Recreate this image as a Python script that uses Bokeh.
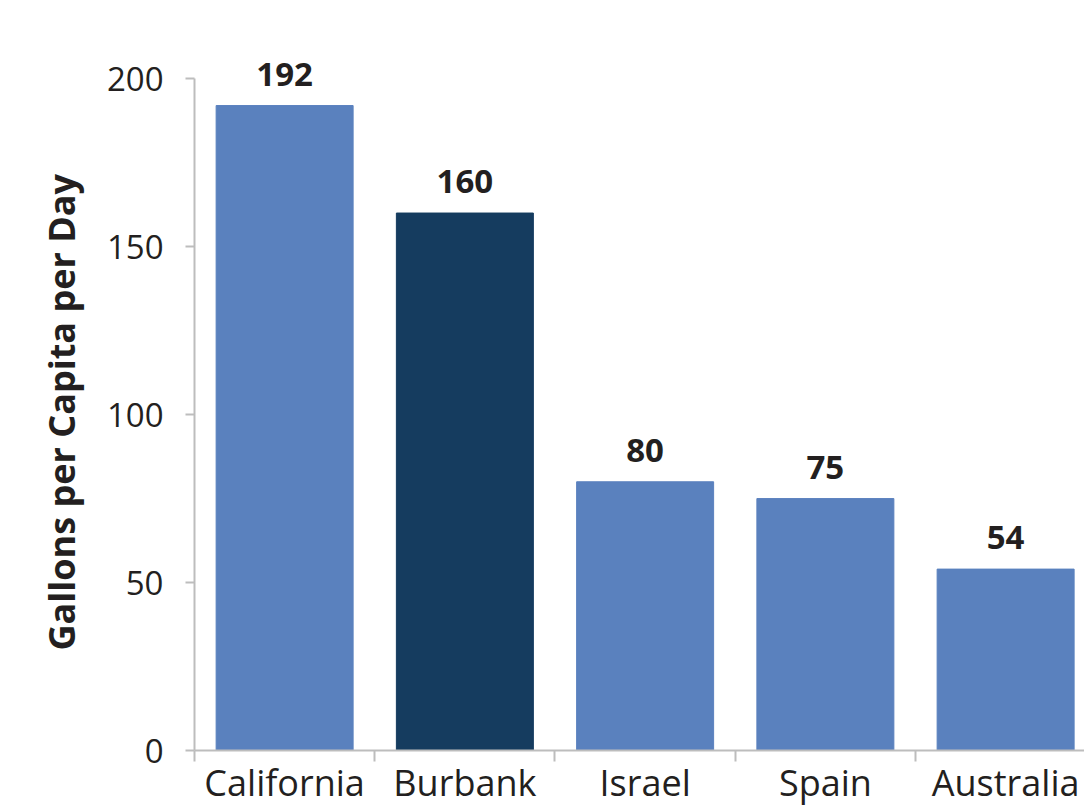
from bokeh.plotting import figure
from bokeh.models import ColumnDataSource, Range1d, FixedTicker, Title
from bokeh.core.properties import value
from bokeh.embed import file_html
from bokeh.resources import INLINE

# Residential water use, gallons per capita per day
places = ["California", "Burbank", "Israel", "Spain", "Australia"]
gallons = [192, 160, 80, 75, 54]
bar_colors = ["#5A81BE", "#153C5F", "#5A81BE", "#5A81BE", "#5A81BE"]
y_ticks = [0, 50, 100, 150, 200]
y_title = "Gallons per Capita per Day"

FONT = "Open Sans"
TEXT = "#231F20"
AXIS = "#BDBDBD"

centers = [i + 0.5 for i in range(len(places))]
src = ColumnDataSource(dict(x=centers, top=gallons, color=bar_colors,
                            label=[str(g) for g in gallons]))

p = figure(width=1084, height=809, output_backend="svg", toolbar_location=None,
           x_range=Range1d(0, 4.9376), y_range=Range1d(0, 220),
           min_border_left=194, min_border_right=0, min_border_top=11,
           min_border_bottom=59)
p.outline_line_color = None
p.grid.visible = False
p.background_fill_color = "white"
p.border_fill_color = "white"

p.vbar(x="x", top="top", width=0.76, bottom=0, color="color", source=src)
p.text(x="x", y="top", text="label", source=src, text_align="center",
       text_baseline="bottom", y_offset=-20, text_font=value(FONT),
       text_font_style="bold", text_font_size="33px", text_color=TEXT)

# category axis: boundary ticks as minor ticks, names at bar centres
xa = p.xaxis[0]
xa.ticker = FixedTicker(ticks=centers, minor_ticks=list(range(len(places) + 1)))
xa.major_label_overrides = {c: n for c, n in zip(centers, places)}
xa.major_tick_out = 0
xa.major_tick_in = 0
xa.minor_tick_out = 11
xa.minor_tick_in = 0
xa.minor_tick_line_color = AXIS
xa.minor_tick_line_width = 2
xa.axis_line_color = AXIS
xa.axis_line_width = 2
xa.major_label_standoff = -4
xa.major_label_text_font = FONT
xa.major_label_text_font_size = "36px"
xa.major_label_text_color = TEXT

ya = p.yaxis[0]
ya.ticker = FixedTicker(ticks=y_ticks, minor_ticks=[])
ya.bounds = (0, 200)
ya.major_tick_out = 9
ya.major_tick_in = 0
ya.major_tick_line_color = AXIS
ya.major_tick_line_width = 2
ya.axis_line_color = AXIS
ya.axis_line_width = 2
ya.major_label_standoff = 22
ya.major_label_text_font = FONT
ya.major_label_text_font_size = "33px"
ya.major_label_text_color = TEXT

# y-axis title, centred on the 0-200 span of the axis rather than the frame
p.add_layout(Title(text=y_title, align="left", offset=100, standoff=35,
                   text_font=FONT, text_font_style="bold",
                   text_font_size="36px", text_color=TEXT), "left")

open("out.html", "w").write(file_html(p, INLINE))
